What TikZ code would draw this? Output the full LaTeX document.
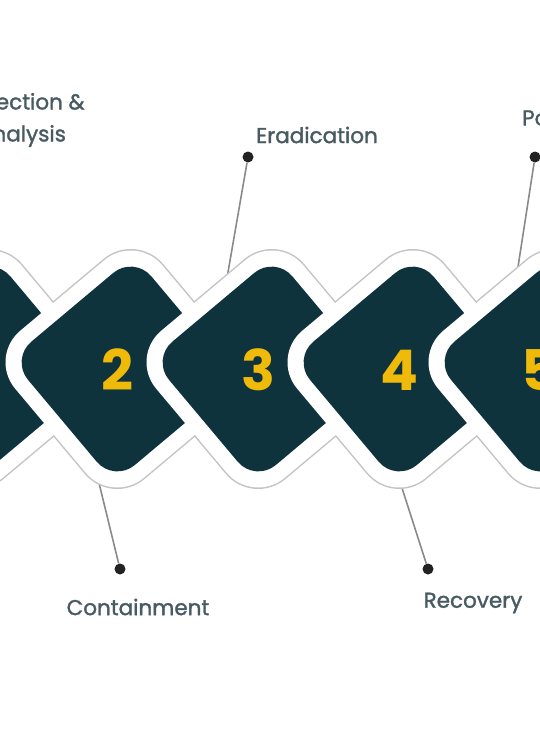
\documentclass[tikz,border=0pt]{standalone}
\usepackage{fontspec}
\setmainfont{Poppins}
\newfontfamily\lblfont{Poppins}[FakeBold=1.5]
\usetikzlibrary{calc}
\definecolor{dkfill}{HTML}{0E333D}
\definecolor{numyellow}{HTML}{F0BA0A}
\definecolor{lblcol}{HTML}{485A62}
\definecolor{dotcol}{HTML}{222222}
\definecolor{linecol}{HTML}{8A8A8A}
\definecolor{rimgray}{HTML}{C4C4C4}
\begin{document}
\begin{tikzpicture}[x=1pt,y=-1pt,
  diarim/.style={draw=none, fill=rimgray, rectangle, rotate=40, minimum size=195pt, rounded corners=42.5pt, inner sep=0pt},
  diaband/.style={draw=none, fill=white, rectangle, rotate=40, minimum size=192pt, rounded corners=41pt, inner sep=0pt},
  diacore/.style={draw=none, fill=dkfill, rectangle, rotate=40, minimum size=161pt, rounded corners=27pt, inner sep=0pt},
  num/.style={text=numyellow, font=\bfseries\fontsize{56}{56}\selectfont, inner sep=0pt},
  lbl/.style={text=lblcol, font=\lblfont\fontsize{21.5}{32}\selectfont, align=center, inner sep=0pt},
  dot/.style={circle, fill=dotcol, minimum size=11pt, inner sep=0pt},
  conn/.style={draw=linecol, line width=1.6pt, shorten >=-8pt}]
\useasboundingbox (0,0) rectangle (539,741);
% centres of the five steps
\coordinate (c1) at (-17,369);
\coordinate (c2) at (124,369);
\coordinate (c3) at (265,369);
\coordinate (c4) at (406,369);
\coordinate (c5) at (547,369);
% connectors and dots
\node[dot] (p3) at (248,157) {};
\node[dot] (p5) at (535,157) {};
\node[dot] (p2) at (120,569) {};
\node[dot] (p4) at (428,569) {};
\draw[conn] (p3) -- ($(c3)+(-38,-91)$);
\draw[conn] (p5) -- ($(c5)+(-29,-102)$);
\draw[conn] (p2) -- ($(c2)+(-25,114)$);
\draw[conn] (p4) -- ($(c4)+(-4,119)$);
% outer rims
\foreach \i in {1,...,5} { \node[diarim] (r\i) at (c\i) {}; }
% bands, cores and numbers
\foreach \i in {1,...,5} {
  \node[diaband] (w\i) at (c\i) {};
  \node[diacore] (d\i) at (c\i) {};
  \node[num] (n\i) at ($(c\i)+(-7,1)$) {\i};
}
% labels
\node[lbl] (t1) at (22,120) {Detection \&\\Analysis};
\node[lbl] (t3) at (317,135) {Eradication};
\node[lbl, anchor=west] (t5) at (522,120) {Post-Incident Activity};
\node[lbl] (t2) at (138,607) {Containment};
\node[lbl] (t4) at (473,603) {Recovery};
\end{tikzpicture}
\end{document}
